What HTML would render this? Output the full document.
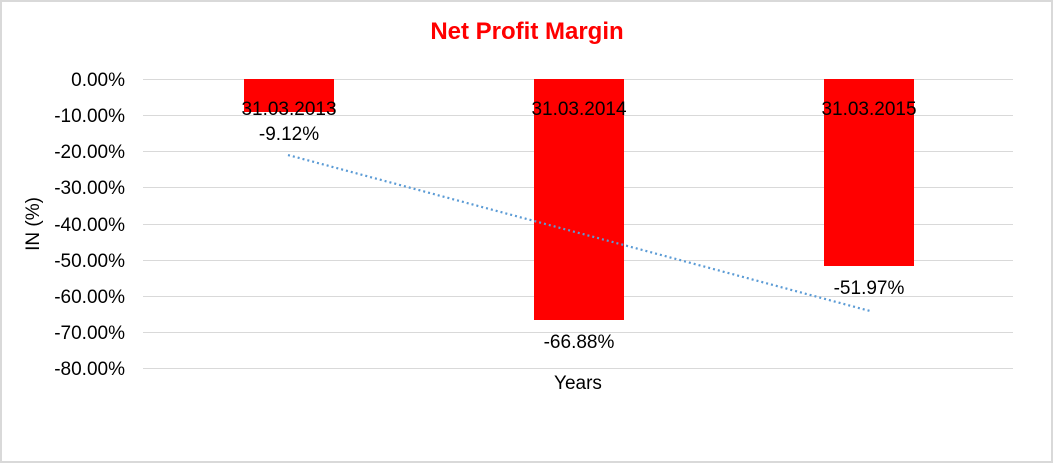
<!DOCTYPE html>
<html><head><meta charset="utf-8"><style>
html,body{margin:0;padding:0;background:#fff}
svg{display:block}
text{font-family:"Liberation Sans",Arial,sans-serif}
</style></head><body>
<svg width="1054" height="464" viewBox="0 0 1054 464" xmlns="http://www.w3.org/2000/svg">
<rect x="1" y="1" width="1051" height="461" fill="#fff" stroke="#d9d9d9" stroke-width="2"/>
<text x="527" y="39" text-anchor="middle" font-size="24" font-weight="bold" fill="#ff0000">Net Profit Margin</text>
<g stroke="#d9d9d9" stroke-width="1">
<line x1="143" x2="1013" y1="79.5" y2="79.5"/>
<line x1="143" x2="1013" y1="115.5" y2="115.5"/>
<line x1="143" x2="1013" y1="151.5" y2="151.5"/>
<line x1="143" x2="1013" y1="187.5" y2="187.5"/>
<line x1="143" x2="1013" y1="224.5" y2="224.5"/>
<line x1="143" x2="1013" y1="260.5" y2="260.5"/>
<line x1="143" x2="1013" y1="296.5" y2="296.5"/>
<line x1="143" x2="1013" y1="332.5" y2="332.5"/>
<line x1="143" x2="1013" y1="368.5" y2="368.5"/>
</g>
<g font-size="19" fill="#000" text-anchor="end">
<text x="125" y="86">0.00%</text>
<text x="125" y="122">-10.00%</text>
<text x="125" y="158">-20.00%</text>
<text x="125" y="194">-30.00%</text>
<text x="125" y="231">-40.00%</text>
<text x="125" y="267">-50.00%</text>
<text x="125" y="303">-60.00%</text>
<text x="125" y="339">-70.00%</text>
<text x="125" y="375">-80.00%</text>
</g>
<text transform="translate(39,224) rotate(-90)" text-anchor="middle" font-size="19">IN (%)</text>
<text x="578" y="389" text-anchor="middle" font-size="19">Years</text>
<g fill="#ff0000">
<rect x="244" y="79" width="90" height="33"/>
<rect x="534" y="79" width="90" height="241"/>
<rect x="824" y="79" width="90" height="187"/>
</g>
<g font-size="19" text-anchor="middle" fill="#000">
<text x="289" y="115">31.03.2013</text>
<text x="579" y="115">31.03.2014</text>
<text x="869" y="115">31.03.2015</text>
<text x="289" y="140">-9.12%</text>
<text x="579" y="348">-66.88%</text>
<text x="869" y="294">-51.97%</text>
</g>
<line x1="288" y1="155" x2="870" y2="311" stroke="#5b9bd5" stroke-width="2.2" stroke-dasharray="2,3"/>
</svg>
</body></html>
